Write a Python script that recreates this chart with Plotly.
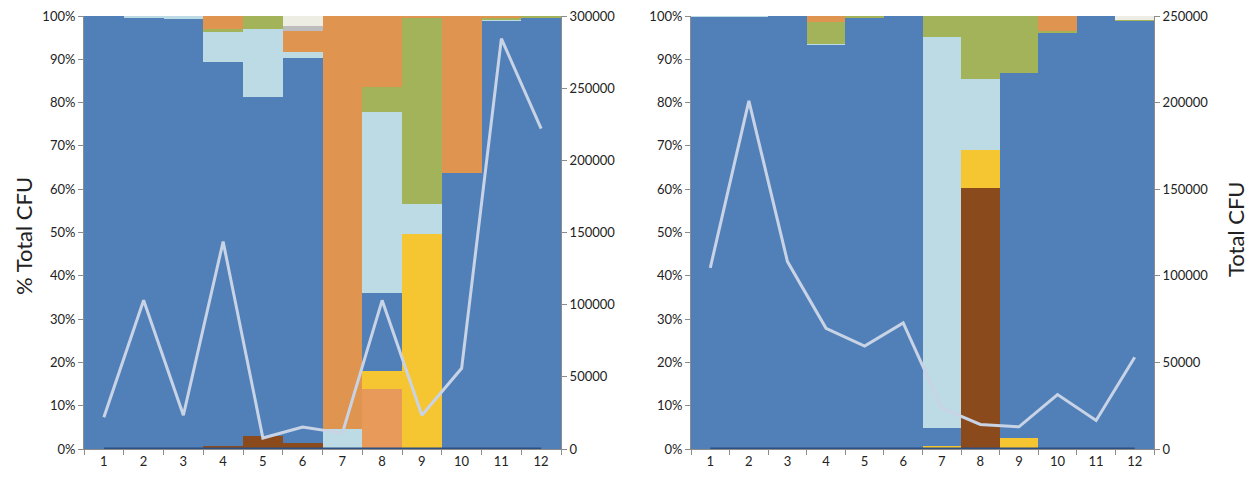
import plotly.graph_objects as go

categories = [str(i) for i in range(1, 13)]

# Left panel composition (% of total CFU), bottom to top
L_brown     = [0, 0, 0, 0.7, 3.0, 1.5, 0, 0, 0, 0, 0, 0]
L_salmon    = [0, 0, 0, 0, 0, 0, 0, 13.9, 0, 0, 0, 0]
L_yellow    = [0, 0, 0, 0, 0, 0, 0, 4.2, 49.7, 0, 0, 0]
L_blue      = [100, 99.7, 99.2, 88.7, 78.3, 88.7, 0, 18.0, 0, 63.8, 98.9, 99.5]
L_lightblue = [0, 0.3, 0.8, 6.9, 15.7, 1.6, 4.7, 41.7, 6.8, 0, 0.2, 0]
L_green     = [0, 0, 0, 0.7, 3.0, 0, 0, 5.7, 43.2, 0, 0.6, 0.5]
L_orange    = [0, 0, 0, 3.0, 0, 4.8, 95.3, 16.5, 0.3, 36.2, 0.3, 0]
L_gray      = [0, 0, 0, 0, 0, 1.1, 0, 0, 0, 0, 0, 0]
L_beige     = [0, 0, 0, 0, 0, 2.3, 0, 0, 0, 0, 0, 0]
L_total_cfu = [22000, 103000, 23400, 143700, 7600, 15200, 11000, 103000, 23400, 55900, 284300, 222000]

# Right panel composition (% of total CFU), bottom to top
R_brown     = [0, 0, 0, 0, 0, 0, 0, 60.3, 0, 0, 0, 0]
R_salmon    = [0, 0, 0, 0, 0, 0, 0, 0, 0, 0, 0, 0]
R_yellow    = [0, 0, 0, 0, 0, 0, 0.8, 8.8, 2.6, 0, 0, 0]
R_blue      = [99.9, 99.9, 100, 93.5, 99.5, 100, 4.0, 0, 84.3, 96.2, 100, 98.9]
R_lightblue = [0.1, 0.1, 0, 0.1, 0, 0, 90.4, 16.3, 0, 0, 0, 0]
R_green     = [0, 0, 0, 5.0, 0.5, 0, 4.8, 14.6, 13.1, 0.3, 0, 0.2]
R_orange    = [0, 0, 0, 1.4, 0, 0, 0, 0, 0, 3.5, 0, 0]
R_gray      = [0, 0, 0, 0, 0, 0, 0, 0, 0, 0, 0, 0]
R_beige     = [0, 0, 0, 0, 0, 0, 0, 0, 0, 0, 0, 0.9]
R_total_cfu = [104600, 201000, 108200, 69700, 59400, 72800, 23600, 14200, 12800, 31400, 16500, 53000]

baseline = [0] * 12

series_names = ["Group A", "Group B", "Group C", "Group D", "Group E",
                "Group F", "Group G", "Group H", "Group I"]
colors = ["#8B4A1C", "#E79A59", "#F6C532", "#5180B8", "#BDDBE5",
          "#A3B35A", "#DF954F", "#BDBDBD", "#EDEDE3"]

left_series = [L_brown, L_salmon, L_yellow, L_blue, L_lightblue,
               L_green, L_orange, L_gray, L_beige]
right_series = [R_brown, R_salmon, R_yellow, R_blue, R_lightblue,
                R_green, R_orange, R_gray, R_beige]

fig = go.Figure()

for name, col, vals in zip(series_names, colors, left_series):
    fig.add_trace(go.Bar(x=categories, y=vals, name=name, marker_color=col,
                         marker_line_width=0, xaxis="x", yaxis="y",
                         showlegend=False))
fig.add_trace(go.Scatter(x=categories, y=baseline, mode="lines",
                         line=dict(color="#2D5082", width=3),
                         xaxis="x", yaxis="y", showlegend=False))
fig.add_trace(go.Scatter(x=categories, y=L_total_cfu, mode="lines", name="Total CFU",
                         line=dict(color="#C9D3E6", width=3),
                         xaxis="x", yaxis="y2", showlegend=False))

for name, col, vals in zip(series_names, colors, right_series):
    fig.add_trace(go.Bar(x=categories, y=vals, name=name, marker_color=col,
                         marker_line_width=0, xaxis="x2", yaxis="y3",
                         showlegend=False))
fig.add_trace(go.Scatter(x=categories, y=baseline, mode="lines",
                         line=dict(color="#2D5082", width=3),
                         xaxis="x2", yaxis="y3", showlegend=False))
fig.add_trace(go.Scatter(x=categories, y=R_total_cfu, mode="lines", name="Total CFU",
                         line=dict(color="#C9D3E6", width=3),
                         xaxis="x2", yaxis="y4", showlegend=False))

# Page body has an 8px margin; figure is sized/positioned to compensate.
OFF = 8
W, H = 1259 - 2 * OFF, 482 - 2 * OFF
top, bottom = 13 - OFF, 449 - OFF
d1 = [(84 - OFF) / W, (561 - OFF) / W]
d2 = [(691 - OFF) / W, (1154 - OFF) / W]

tickfont = dict(family="Lato, Open Sans, sans-serif", size=13, color="#222")
axis_common = dict(showline=True, linecolor="#8C8C8C", linewidth=1,
                   ticks="outside", tickcolor="#8C8C8C", ticklen=5,
                   showgrid=False, zeroline=False, tickfont=tickfont,
                   ticklabeloverflow="allow")

xaxis_common = dict(axis_common, type="category", range=[-0.5, 11.5],
                    tickson="boundaries")

plot_h = bottom - top
fig.update_layout(
    width=W, height=H,
    margin=dict(l=0, r=0, t=top, b=H - bottom),
    paper_bgcolor="white", plot_bgcolor="white",
    barmode="stack", bargap=0,
    xaxis=dict(xaxis_common, domain=d1, anchor="y"),
    xaxis2=dict(xaxis_common, domain=d2, anchor="y3"),
    yaxis=dict(axis_common, range=[0, 100], dtick=10, ticksuffix="%",
               anchor="x"),
    yaxis2=dict(axis_common, range=[0, 300000], dtick=50000, side="right",
                overlaying="y", anchor="x", tickformat="d"),
    yaxis3=dict(axis_common, range=[0, 100], dtick=10, ticksuffix="%",
                anchor="x2"),
    yaxis4=dict(axis_common, range=[0, 250000], dtick=50000, side="right",
                overlaying="y3", anchor="x2", tickformat="d"),
    annotations=[
        dict(text="% Total CFU", xref="paper", yref="paper",
             x=0.0, y=(bottom - (235 - OFF)) / plot_h,
             textangle=-90, showarrow=False,
             font=dict(family="Lato, Open Sans, sans-serif", size=22, color="#222"),
             xanchor="left", yanchor="middle"),
        dict(text="Total CFU", xref="paper", yref="paper",
             x=1.0, y=(bottom - (228 - OFF)) / plot_h,
             textangle=-90, showarrow=False,
             font=dict(family="Lato, Open Sans, sans-serif", size=22, color="#222"),
             xanchor="right", yanchor="middle"),
    ],
)

fig.write_html("out.html")
